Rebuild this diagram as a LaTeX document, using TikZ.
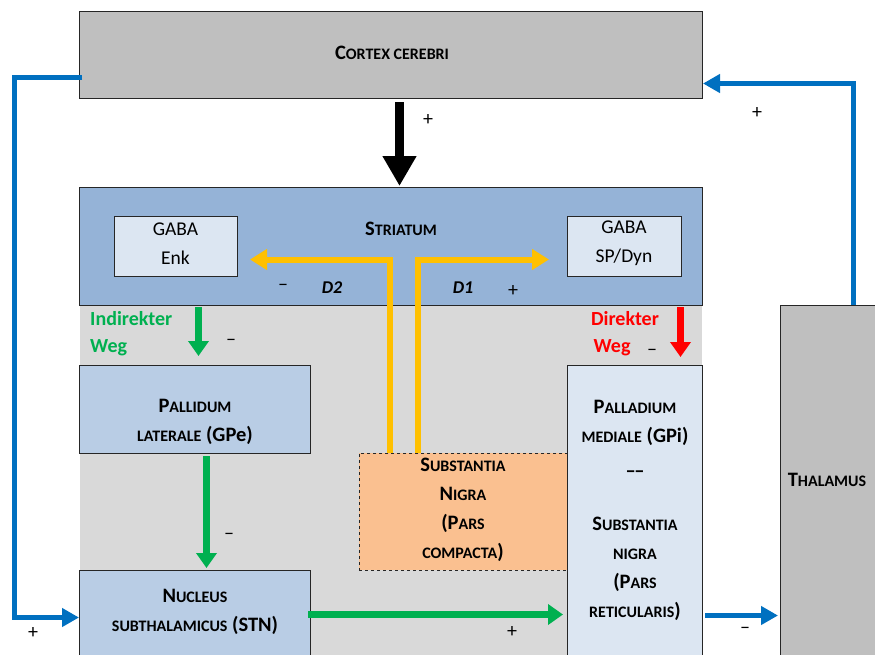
\documentclass[tikz,border=0pt]{standalone}
\usepackage{fontspec}
\setmainfont{Carlito}
\usetikzlibrary{arrows.meta}
\definecolor{cgray}{HTML}{BFBFBF}
\definecolor{cstr}{HTML}{95B3D7}
\definecolor{clight}{HTML}{DCE6F2}
\definecolor{cpal}{HTML}{B9CDE5}
\definecolor{cbg}{HTML}{D9D9D9}
\definecolor{corange}{HTML}{FAC090}
\definecolor{cyel}{HTML}{FFC000}
\definecolor{cgreen}{HTML}{00B050}
\definecolor{cred}{HTML}{FF0000}
\definecolor{cblue}{HTML}{0070C0}
\newcommand\Lg[1]{{\fontsize{20.5}{29}\selectfont #1}}
\newcommand\Sm[1]{{\fontsize{16}{29}\selectfont #1}}
\begin{document}
\begin{tikzpicture}[x=1pt,y=-1pt,
  box/.style={draw=black!85, line width=1pt, inner sep=0pt, anchor=north west},
  lab/.style={font=\fontsize{20.5}{29}\selectfont\bfseries, align=center, inner sep=0pt},
  sign/.style={font=\fontsize{20}{20}\selectfont, inner sep=0pt},
  yel/.style={draw=cyel, line width=6pt, -{Triangle[width=20pt,length=17pt]}},
  grn/.style={draw=cgreen, line width=7pt, -{Triangle[width=20pt,length=15pt]}},
  blu/.style={draw=cblue, line width=5pt, -{Triangle[width=18pt,length=17pt]}},
  redarr/.style={draw=cred, line width=7pt, -{Triangle[width=20pt,length=15pt]}},
]
\clip (0,0) rectangle (875,654);
\fill[white] (0,0) rectangle (875,654);
\fill[cbg] (80,305) rectangle (702,660);
% boxes
\node[box, fill=cgray, minimum width=623pt, minimum height=87pt] (cortex) at (79,11) {};
\node[lab] (cortexlab) at (392,53) {\Lg{C}\Sm{ORTEX CEREBRI}};
\node[box, fill=cstr, minimum width=623pt, minimum height=118pt] (striatum) at (79,187) {};
\node[lab] (striatumlab) at (401,229) {\Lg{S}\Sm{TRIATUM}};
\node[box, fill=clight, minimum width=123pt, minimum height=60pt] (enk) at (114,216) {};
\node[font=\fontsize{19.5}{29}\selectfont, align=center, inner sep=0pt] (enklab) at (175.5,243.5) {GABA\\Enk};
\node[box, fill=clight, minimum width=114pt, minimum height=60pt] (spdyn) at (567,216) {};
\node[font=\fontsize{19.5}{29}\selectfont, align=center, inner sep=0pt] (spdynlab) at (624,243.5) {GABA\\SP/Dyn};
\node[box, fill=cpal, minimum width=231pt, minimum height=88pt] (gpe) at (79,365) {};
\node[lab] (gpelab) at (195,422) {\Lg{P}\Sm{ALLIDUM}\\\Sm{LATERALE} (GPe)};
\node[box, fill=cpal, minimum width=231pt, minimum height=100pt] (stn) at (79,570) {};
\node[lab] (stnlab) at (195,612) {\Lg{N}\Sm{UCLEUS}\\\Sm{SUBTHALAMICUS} (STN)};
\node[box, fill=corange, dashed, line width=0.8pt, minimum width=208pt, minimum height=117pt] (snc) at (359,453) {};
\node[lab] (snclab) at (463,510) {\Lg{S}\Sm{UBSTANTIA}\\\Lg{N}\Sm{IGRA}\\\Lg{(P}\Sm{ARS}\\\Sm{COMPACTA}\Lg{)}};
\node[box, fill=clight, minimum width=135pt, minimum height=300pt] (gpi) at (567,365) {};
\node[lab] (gpilab1) at (635,422.5) {\Lg{P}\Sm{ALLADIUM}\\\Sm{MEDIALE} (GPi)};
\node[lab] (gpidash) at (635,474) {–\kern-1.5pt–};
\node[lab] (gpilab2) at (635,568.5) {\Lg{S}\Sm{UBSTANTIA}\\\Sm{NIGRA}\\\Lg{(P}\Sm{ARS}\\\Sm{RETICULARIS}\Lg{)}};
\node[box, fill=cgray, minimum width=100pt, minimum height=360pt] (thal) at (780,305) {};
\node[lab] (thallab) at (827,480) {\Lg{T}\Sm{HALAMUS}};
% connectors
\draw[line width=9pt, -{Triangle[width=32pt,length=30pt]}, shorten <=3pt, shorten >=1pt]
  ([xshift=8.5pt]cortex.south) -- ([xshift=8.5pt]striatum.north);
\draw[yel, shorten >=12pt] ([xshift=-73pt]snc.north) |- ([yshift=-13pt]enk.east);
\draw[yel, shorten >=18pt] ([xshift=-45pt]snc.north) |- ([yshift=-13pt]spdyn.west);
\draw[grn, shorten <=1pt, shorten >=9pt] ([xshift=-192.5pt]striatum.south) -- ([xshift=3.5pt]gpe.north);
\draw[redarr, shorten <=1pt, shorten >=8pt] ([xshift=289.5pt]striatum.south) -- ([xshift=45.5pt]gpi.north);
\draw[grn, shorten <=2pt, shorten >=2pt] ([xshift=11.5pt]gpe.south) -- ([xshift=11.5pt]stn.north);
\draw[grn, shorten <=-3pt, shorten >=4pt] ([yshift=6pt]stn.east) -- ([yshift=-99pt]gpi.west);
\draw[blu, shorten <=2pt, shorten >=2pt] ([yshift=-100pt]gpi.east) -- ([yshift=-130pt]thal.west);
\draw[blu, shorten <=-3pt] ([yshift=-22.5pt]cortex.west) -- ++(-65,0) |- ([yshift=3pt]stn.west);
\draw[blu] ([xshift=23pt]thal.north) |- ([yshift=-28.5pt]cortex.east);
% labels
\node[sign] (p1) at (428,120) {+};
\node[sign] (m1) at (283,287) {–};
\node[inner sep=0pt, font=\fontsize{18}{18}\selectfont\bfseries\itshape] (d2) at (332,288) {D2};
\node[inner sep=0pt, font=\fontsize{18}{18}\selectfont\bfseries\itshape] (d1) at (463,288) {D1};
\node[sign] (p2) at (513,291) {+};
\node[inner sep=0pt, anchor=west, text=cgreen, font=\fontsize{20}{20}\selectfont\bfseries] (ind1) at (90,319) {Indirekter};
\node[inner sep=0pt, anchor=west, text=cgreen, font=\fontsize{20}{20}\selectfont\bfseries] (ind2) at (90,348) {Weg};
\node[sign] (m2) at (231,342) {–};
\node[inner sep=0pt, text=cred, font=\fontsize{20}{20}\selectfont\bfseries] (dir1) at (625,319) {Direkter};
\node[inner sep=0pt, text=cred, font=\fontsize{20}{20}\selectfont\bfseries] (dir2) at (612,348) {Weg};
\node[sign] (m3) at (652,352) {–};
\node[sign] (m4) at (229,536) {–};
\node[sign] (p3) at (33,633) {+};
\node[sign] (p4) at (512,632) {+};
\node[sign] (m5) at (745,630) {–};
\node[sign] (p5) at (757,113) {+};
\end{tikzpicture}
\end{document}
